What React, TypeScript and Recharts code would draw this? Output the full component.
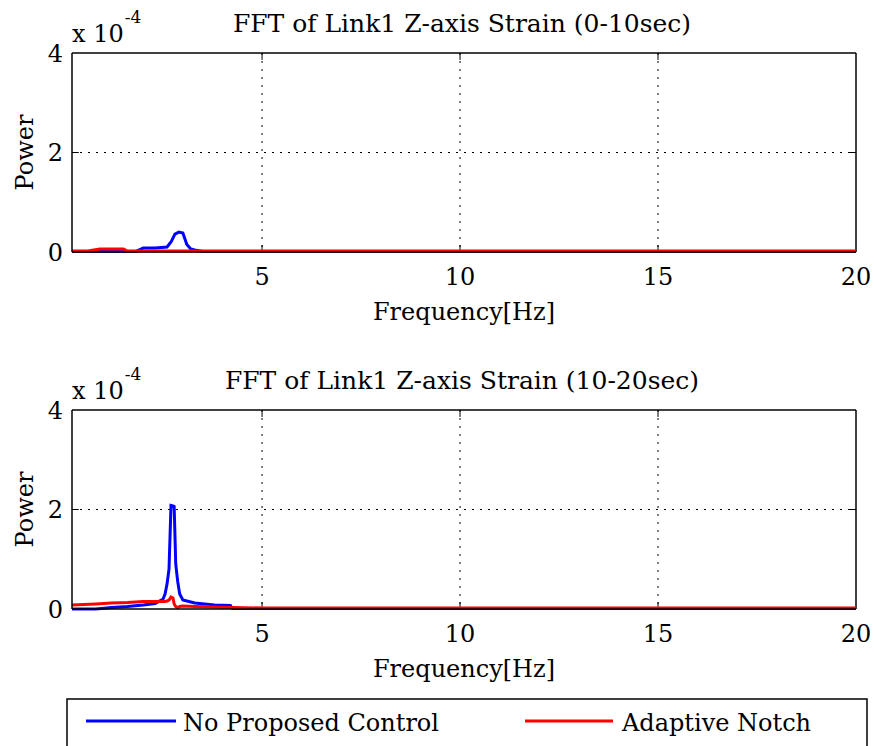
import React from "react";
import { LineChart, Line, XAxis, YAxis, CartesianGrid, ReferenceLine } from "recharts";

// Frequencies [Hz] and power values (in units of 1e-4)
const freqTop = [0.2, 0.6, 0.9, 1.2, 1.5, 1.6, 1.8, 2.0, 2.3, 2.6, 2.7, 2.8, 2.9, 3.0, 3.1, 3.2, 3.3, 3.5, 4.0, 5, 10, 15, 20];
const noControlTop = [0.01, 0.01, 0.01, 0.01, 0.01, 0.01, 0.01, 0.08, 0.08, 0.1, 0.2, 0.36, 0.4, 0.38, 0.15, 0.06, 0.04, 0.01, 0.01, 0.01, 0.01, 0.01, 0.01];
const notchTop = [0.02, 0.02, 0.06, 0.06, 0.06, 0.02, 0.02, 0.02, 0.02, 0.02, 0.02, 0.02, 0.02, 0.02, 0.02, 0.02, 0.02, 0.02, 0.02, 0.02, 0.02, 0.02, 0.02];

const freqBottom = [0.2, 0.8, 1.2, 1.6, 2.0, 2.3, 2.5, 2.55, 2.6, 2.65, 2.7, 2.75, 2.78, 2.82, 2.87, 2.92, 3.0, 3.3, 3.8, 4.2, 4.25, 5, 10, 15, 20];
const noControlBottom = [0.0, 0.0, 0.03, 0.05, 0.08, 0.11, 0.2, 0.3, 0.5, 0.8, 2.08, 2.07, 2.06, 0.9, 0.55, 0.3, 0.18, 0.12, 0.08, 0.07, 0.01, 0.01, 0.01, 0.01, 0.01];
const notchBottom = [0.08, 0.1, 0.12, 0.13, 0.15, 0.15, 0.15, 0.15, 0.16, 0.18, 0.24, 0.22, 0.1, 0.05, 0.03, 0.05, 0.06, 0.05, 0.04, 0.03, 0.03, 0.02, 0.02, 0.02, 0.02];

const xTicks = [5, 10, 15, 20];
const yTicks = [0, 2, 4];
const titles = ["FFT of Link1 Z-axis Strain (0-10sec)", "FFT of Link1 Z-axis Strain (10-20sec)"];
const seriesNames = ["No Proposed Control", "Adaptive Notch"];
const seriesColors = ["#0000ff", "#ff0000"];

const FONT = "'DejaVu Serif', serif";

const topData = freqTop.map((f, i) => ({ f, a: noControlTop[i], b: notchTop[i] }));
const bottomData = freqBottom.map((f, i) => ({ f, a: noControlBottom[i], b: notchBottom[i] }));

const xLabel = (props: any) => {
  const vb = props.viewBox;
  return (
    <text x={vb.x + vb.width / 2} y={vb.y + 68} textAnchor="middle" fontFamily={FONT} fontSize={24} fill="#000">
      Frequency[Hz]
    </text>
  );
};

const yLabel = (props: any) => {
  const vb = props.viewBox;
  const cy = vb.y + vb.height / 2;
  return (
    <text x={33} y={cy} textAnchor="middle" transform={`rotate(-90 33 ${cy})`} fontFamily={FONT} fontSize={24} fill="#000">
      Power
    </text>
  );
};

function Panel({ data, height, bottomMargin }: { data: any[]; height: number; bottomMargin: number }) {
  return (
    <LineChart width={874} height={height} data={data} margin={{ top: 53, right: 18, left: 0, bottom: bottomMargin }}>
      <CartesianGrid stroke="#000" strokeDasharray="2 6" horizontalValues={[2]} verticalValues={[5, 10, 15]} />
      <XAxis
        dataKey="f"
        type="number"
        domain={[0.2, 20]}
        ticks={xTicks}
        allowDataOverflow
        height={88}
        axisLine={{ stroke: "#000", strokeWidth: 1.5 }}
        tickLine={false}
        tickSize={6}
        tickMargin={10}
        tick={{ fill: "#000", fontFamily: FONT, fontSize: 24 }}
        label={xLabel}
      />
      <YAxis
        type="number"
        domain={[0, 4]}
        ticks={yTicks}
        width={72}
        axisLine={{ stroke: "#000", strokeWidth: 1.5 }}
        tickLine={false}
        tickSize={6}
        tickMargin={3}
        tick={{ fill: "#000", fontFamily: FONT, fontSize: 24 }}
        label={yLabel}
      />
      <ReferenceLine y={4} stroke="#000" strokeWidth={1.5} />
      <ReferenceLine x={20} stroke="#000" strokeWidth={1.5} />
      {[5, 10, 15].map((t) => (
        <ReferenceLine key={"t" + t} segment={[{ x: t, y: 4 }, { x: t, y: 3.86 }]} stroke="#000" strokeWidth={1} />
      ))}
      {[5, 10, 15].map((t) => (
        <ReferenceLine key={"b" + t} segment={[{ x: t, y: 0 }, { x: t, y: 0.14 }]} stroke="#000" strokeWidth={1} />
      ))}
      <ReferenceLine segment={[{ x: 0.2, y: 2 }, { x: 0.37, y: 2 }]} stroke="#000" strokeWidth={1} />
      <ReferenceLine segment={[{ x: 19.83, y: 2 }, { x: 20, y: 2 }]} stroke="#000" strokeWidth={1} />
      <Line dataKey="a" stroke={seriesColors[0]} strokeWidth={3} dot={false} type="linear" isAnimationActive={false} />
      <Line dataKey="b" stroke={seriesColors[1]} strokeWidth={3} dot={false} type="linear" isAnimationActive={false} />
    </LineChart>
  );
}

export default function App() {
  return (
    <div style={{ position: "absolute", left: 0, top: 0, width: 874, height: 746, background: "#fff", overflow: "hidden" }}>
      <div style={{ position: "absolute", left: 0, top: 0 }}>
        <Panel data={topData} height={340} bottomMargin={0} />
      </div>
      <div style={{ position: "absolute", left: 0, top: 357 }}>
        <Panel data={bottomData} height={389} bottomMargin={49} />
      </div>
      <svg width={874} height={746} style={{ position: "absolute", left: 0, top: 0, pointerEvents: "none" }}>
        {[0, 357].map((off, i) => (
          <g key={i} fontFamily={FONT} fill="#000">
            <text x={462} y={32 + off} textAnchor="middle" fontSize={25}>{titles[i]}</text>
            <text x={72} y={42 + off} fontSize={24}>
              x 10
              <tspan dx={1} dy={-19} fontSize={17}>-4</tspan>
            </text>
          </g>
        ))}
        <rect x={67} y={699} width={800} height={60} fill="none" stroke="#000" strokeWidth={1.5} />
        <line x1={86} y1={721} x2={176} y2={721} stroke={seriesColors[0]} strokeWidth={3} />
        <text x={183} y={731} fontFamily={FONT} fontSize={24} fill="#000">{seriesNames[0]}</text>
        <line x1={525} y1={721} x2={613} y2={721} stroke={seriesColors[1]} strokeWidth={3} />
        <text x={622} y={731} fontFamily={FONT} fontSize={24} fill="#000">{seriesNames[1]}</text>
      </svg>
    </div>
  );
}
